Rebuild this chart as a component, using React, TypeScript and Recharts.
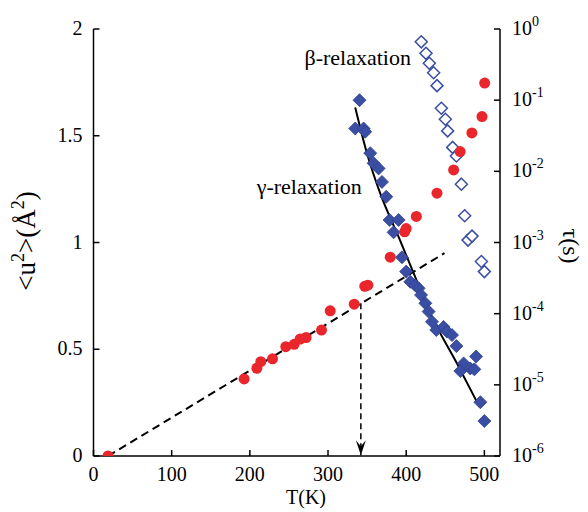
import React from 'react';
import { ComposedChart, Scatter, Line, XAxis, YAxis, ReferenceDot, Label } from 'recharts';

const FONT = "'Liberation Serif', serif";
const RED = '#e8262b';
const BLUE = '#3a4fa4';

// <u^2> (left axis)
const uT = [18.6, 192.7, 209, 214, 229, 246, 256.7, 264.4, 272, 291.7, 302.8, 333.5, 347, 351, 379.6, 398, 400, 413, 439.4, 460.7, 469, 484, 497, 500.4];
const uVal = [0, 0.361, 0.411, 0.442, 0.455, 0.512, 0.523, 0.548, 0.555, 0.59, 0.68, 0.711, 0.795, 0.8, 0.931, 1.05, 1.065, 1.122, 1.231, 1.34, 1.426, 1.513, 1.59, 1.747];

// gamma relaxation (filled diamonds, right axis)
const gammaT = [340.3, 334.8, 345.5, 347.6, 354, 358.3, 364.7, 369, 374.5, 378.8, 390.3, 383.9, 394.6, 400, 405.3, 411.7, 415.9, 419, 424.5, 428.7, 433, 438.5, 447.9, 452.2, 458.6, 464.2, 473.5, 469.3, 482, 487.2, 489.4, 494.9, 500];
const gammaTau = [1.0e-1, 4.0e-2, 4.0e-2, 3.6e-2, 1.8e-2, 1.3e-2, 1.1e-2, 7.1e-3, 4.4e-3, 2.07e-3, 2.07e-3, 1.39e-3, 6.2e-4, 3.9e-4, 2.8e-4, 2.5e-4, 2.27e-4, 1.83e-4, 1.4e-4, 1.07e-4, 7.7e-5, 5.9e-5, 6.5e-5, 5.6e-5, 5.0e-5, 3.5e-5, 2.0e-5, 1.56e-5, 1.7e-5, 1.65e-5, 2.5e-5, 5.7e-6, 3.1e-6];

// beta relaxation (open diamonds, right axis)
const betaT = [419.3, 425.3, 429.6, 435.1, 439.4, 445, 450.1, 453, 459.4, 464.2, 470.6, 474.8, 479.1, 484.2, 496.2, 500];
const betaTau = [0.66, 0.455, 0.33, 0.243, 0.16, 7.7e-2, 5.4e-2, 3.7e-2, 2.17e-2, 1.64e-2, 6.6e-3, 2.38e-3, 1.08e-3, 1.23e-3, 5.4e-4, 3.9e-4];

// gamma fit curve
const fitT = [334.8, 349.8, 366.8, 390.3, 409.5, 430.9, 465, 493.8];
const fitTau = [7.9e-2, 1.8e-2, 4.9e-3, 1.2e-3, 3.7e-4, 1.0e-4, 2.0e-5, 4.9e-6];

// linear fit of <u^2> and arrow
const linT = [18.6, 449];
const linU = [0, 0.95];
const arrowT = [342, 342];
const arrowU = [0.716, 0.004];

const xTicks = [0, 100, 200, 300, 400, 500];
const uTicks = [0, 0.5, 1, 1.5, 2];
const tauTicks = [1e-6, 1e-5, 1e-4, 1e-3, 1e-2, 1e-1, 1];
const tauExp = ['-6', '-5', '-4', '-3', '-2', '-1', '0'];

const uData = uT.map((T, i) => ({ T, u: uVal[i] }));
const gammaData = gammaT.map((T, i) => ({ T, tau: gammaTau[i] }));
const betaData = betaT.map((T, i) => ({ T, tau: betaTau[i] }));
const fitData = fitT.map((T, i) => ({ T, tau: fitTau[i] }));
const linData = linT.map((T, i) => ({ T, u: linU[i] }));
const arrowData = arrowT.map((T, i) => ({ T, u: arrowU[i] }));

const CSS = `
#root .recharts-wrapper svg text, #root .recharts-wrapper svg tspan,
#root .recharts-wrapper .recharts-text, #root svg text {
  font-family: 'Liberation Serif', serif !important;
}
`;

const BottomTick = (p: any) => (
  <g>
    <line x1={p.x} x2={p.x} y1={p.y} y2={p.y - 6} stroke="#000" strokeWidth={1.5} />
    <text x={p.x} y={p.y + 25} textAnchor="middle" fontFamily={FONT} fontSize={20} fill="#000">
      {p.payload.value}
    </text>
  </g>
);
const TopTick = (p: any) => (
  <line x1={p.x} x2={p.x} y1={p.y} y2={p.y + 6} stroke="#000" strokeWidth={1.5} />
);
const LeftTick = (p: any) => (
  <g>
    <line x1={p.x} x2={p.x + 6} y1={p.y} y2={p.y} stroke="#000" strokeWidth={1.5} />
    <text x={p.x - 11} y={p.y + 6} textAnchor="end" fontFamily={FONT} fontSize={20} fill="#000">
      {p.payload.value}
    </text>
  </g>
);
const RightTick = (p: any) => {
  const idx = tauTicks.indexOf(p.payload.value);
  return (
    <g>
      <line x1={p.x} x2={p.x - 6} y1={p.y} y2={p.y} stroke="#000" strokeWidth={1.5} />
      <text x={p.x + 12} y={p.y + 6} textAnchor="start" fontFamily={FONT} fontSize={20} fill="#000">
        10
        <tspan dy={-9} fontSize={14}>{tauExp[idx]}</tspan>
      </text>
    </g>
  );
};

const RedDot = (p: any) => <circle cx={p.cx} cy={p.cy} r={5.5} fill={RED} />;
const FilledDiamond = (p: any) => (
  <path d={`M${p.cx},${p.cy - 6.5} L${p.cx + 6.5},${p.cy} L${p.cx},${p.cy + 6.5} L${p.cx - 6.5},${p.cy} Z`} fill={BLUE} stroke="#2e3f8c" strokeWidth={0.8} />
);
const OpenDiamond = (p: any) => (
  <path d={`M${p.cx},${p.cy - 6} L${p.cx + 6},${p.cy} L${p.cx},${p.cy + 6} L${p.cx - 6},${p.cy} Z`} fill="#fff" stroke={BLUE} strokeWidth={1.5} />
);

const arrowDot = (p: any) =>
  p.index === 1 ? (
    <path key="arrowhead" d={`M${p.cx},${p.cy} L${p.cx - 5},${p.cy - 15} L${p.cx},${p.cy - 9} L${p.cx + 5},${p.cy - 15} Z`} fill="#000" />
  ) : (
    <g key={'na' + p.index} />
  );

export default function App() {
  return (
    <div style={{ position: 'absolute', left: 0, top: 0, background: '#fff', fontFamily: FONT }}>
      <style>{CSS}</style>
      <ComposedChart width={588} height={512} margin={{ top: 29, right: 0, bottom: 0, left: 0 }} style={{ fontFamily: FONT }}>
        <XAxis xAxisId="b" dataKey="T" type="number" domain={[0, 520]} ticks={xTicks} interval={0} orientation="bottom"
          height={56} tick={<BottomTick />} tickLine={false} tickSize={0} tickMargin={0}
          axisLine={{ stroke: '#000', strokeWidth: 1.5 }} allowDataOverflow>
          <Label content={() => (
            <text x={306} y={504} textAnchor="middle" fontFamily={FONT} fontSize={20} fill="#000">T(K)</text>
          )} />
        </XAxis>
        <XAxis xAxisId="t" dataKey="T" type="number" domain={[0, 520]} ticks={xTicks} interval={0} orientation="top"
          height={0} tick={<TopTick />} tickLine={false} tickSize={0} tickMargin={0}
          axisLine={{ stroke: '#000', strokeWidth: 1.5 }} allowDataOverflow />
        <YAxis yAxisId="u" dataKey="u" type="number" domain={[0, 2]} ticks={uTicks} interval={0} width={93.5}
          tick={<LeftTick />} tickLine={false} tickSize={0} tickMargin={0}
          axisLine={{ stroke: '#000', strokeWidth: 1.5 }} allowDataOverflow>
          <Label content={() => (
            <text x={35} y={241} transform="rotate(-90 35 241)" textAnchor="middle" fontFamily={FONT} fontSize={27} fill="#000">
              {'<u'}<tspan dy={-11} fontSize={18}>2</tspan><tspan dy={11}>{'>(Å'}</tspan><tspan dy={-11} fontSize={18}>2</tspan><tspan dy={11}>)</tspan>
            </text>
          )} />
        </YAxis>
        <YAxis yAxisId="tau" dataKey="tau" orientation="right" type="number" scale="log" domain={[1e-6, 1]} ticks={tauTicks}
          interval={0} width={88} tick={<RightTick />} tickLine={false} tickSize={0} tickMargin={0}
          axisLine={{ stroke: '#000', strokeWidth: 1.5 }} allowDataOverflow>
          <Label content={() => (
            <text x={563} y={246} transform="rotate(90 563 246)" textAnchor="middle" fontFamily={FONT} fontSize={24} fill="#000">
              τ(s)
            </text>
          )} />
        </YAxis>

        <Scatter xAxisId="b" yAxisId="tau" data={betaData} dataKey="tau" shape={OpenDiamond} isAnimationActive={false} />
        <Scatter xAxisId="b" yAxisId="tau" data={gammaData} dataKey="tau" shape={FilledDiamond} isAnimationActive={false} />
        <Scatter xAxisId="b" yAxisId="u" data={uData} dataKey="u" shape={RedDot} isAnimationActive={false} />

        <Line xAxisId="b" yAxisId="tau" data={fitData} dataKey="tau" type="monotone" stroke="#000" strokeWidth={2}
          dot={false} activeDot={false} isAnimationActive={false} />
        <Line xAxisId="b" yAxisId="u" data={linData} dataKey="u" type="linear" stroke="#000" strokeWidth={2}
          strokeDasharray="8 5" dot={false} activeDot={false} isAnimationActive={false} />
        <Line xAxisId="b" yAxisId="u" data={arrowData} dataKey="u" type="linear" stroke="#000" strokeWidth={1.5}
          strokeDasharray="6 4" dot={arrowDot} activeDot={false} isAnimationActive={false} />

        <ReferenceDot xAxisId="b" yAxisId="u" x={338} y={1.869} r={0} fill="none" stroke="none"
          label={{ value: 'β-relaxation', position: 'center', fontFamily: FONT, fontSize: 22, fill: '#000' }} />
        <ReferenceDot xAxisId="b" yAxisId="u" x={276} y={1.265} r={0} fill="none" stroke="none"
          label={{ value: 'γ-relaxation', position: 'center', fontFamily: FONT, fontSize: 22, fill: '#000' }} />
      </ComposedChart>
    </div>
  );
}
